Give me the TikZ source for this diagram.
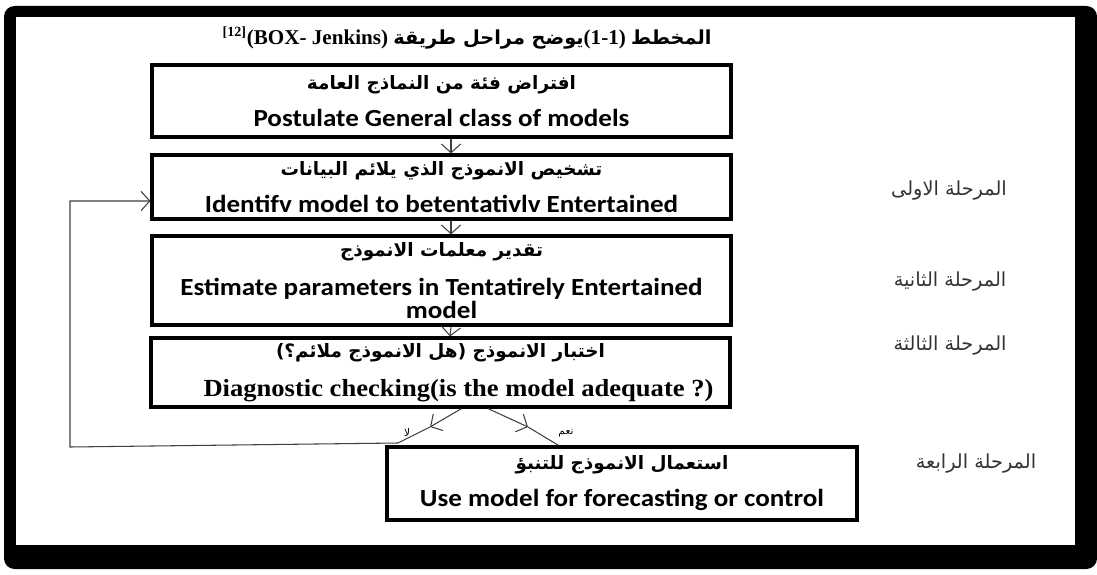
\documentclass[tikz,border=0pt]{standalone}
\usepackage{fontspec}
\setmainfont{Liberation Serif}
\newfontfamily\arabicfont[Script=Arabic]{DejaVu Sans}
\newfontfamily\boxfont[FakeStretch=1.1]{Carlito}
\newfontfamily\diagfont[FakeStretch=1.08]{Liberation Serif}
\TeXXeTstate=1
\usetikzlibrary{calc}
\usetikzlibrary{arrows.meta}
\newcommand{\artxt}[1]{{\arabicfont\bfseries\fontsize{10.5}{13}\selectfont\beginR #1\endR}}
\tikzstyle{stagebox}=[draw, line width=1.8pt, minimum width=11.58cm, inner sep=0pt,
                  align=center, font=\boxfont\bfseries\fontsize{14}{13}\selectfont]
\tikzstyle{flow}=[draw=black!75, line width=0.6pt, -{Straight Barb[length=5pt,width=11pt]}]
\tikzstyle{flowline}=[draw=black!75, line width=0.6pt]
\tikzstyle{phase}=[font=\arabicfont\fontsize{11}{13}\selectfont, text=black!80]

\begin{document}
\begin{tikzpicture}[x=0.02cm, y=-0.02cm]
      \useasboundingbox (0,0) rectangle (1097,574);
      % Frame round the figure
      \fill[black, rounded corners=6pt] (4,6) rectangle (1097,569);
      \fill[white] (16,17) rectangle (1075,545);
      %
      \node[font=\bfseries\fontsize{12}{14}\selectfont] (title) at (467,38)
        {\textsuperscript{[12]}(BOX- Jenkins) {\arabicfont\bfseries\fontsize{11}{14}\selectfont\beginR يوضح  مراحل طريقة\endR}(1-1) {\arabicfont\bfseries\fontsize{11}{14}\selectfont\beginR المخطط\endR}};
      %
      % Stages of the method
      \node[stagebox, minimum height=1.44cm] (p1) at (441.5,101)
        {\artxt{افتراض فئة من النماذج العامة}\\[8pt] Postulate General class of models};
      \node[stagebox, minimum height=1.28cm] (p2) at (441.5,187)
        {\artxt{تشخيص الانموذج الذي يلائم البيانات}\\[8pt] Identifv model to betentativlv Entertained};
      \node[stagebox, minimum height=1.78cm] (p3) at (441.5,280.5)
        {\artxt{تقدير معلمات الانموذج}\\[9pt] Estimate parameters in Tentatirely Entertained\\ model};
      \node[stagebox, minimum height=1.38cm, font=\diagfont\bfseries\fontsize{14}{15}\selectfont] (p4) at (440.5,372.5)
        {\artxt{اختبار الانموذج (هل الانموذج ملائم؟)}\\[7pt] \hspace*{0.72cm}Diagnostic checking(is the model adequate ?)};
      \node[stagebox, minimum height=1.46cm, minimum width=9.4cm] (p5) at (622,483.5)
        {\artxt{استعمال الانموذج للتنبؤ}\\[8pt] Use model for forecasting or control};
      %
      \foreach \source/\dest in {p1/p2, p2/p3, p3/p4}
        \draw[flow] ([xshift=0.19cm]\source.south) -- ([xshift=0.19cm]\dest.north);
      %
      % Branches after the check
      \coordinate (nomid) at (430,427);
      \coordinate (nojoin) at (398,443);
      \coordinate (loopcorner) at (70,447);
      \coordinate (yesmid) at (528,427);
      \draw[flow] ([xshift=0.42cm]p4.south) -- (nomid);
      \draw[flow] (nomid) -- (nojoin) -- (loopcorner) |- ([yshift=-0.28cm]p2.west);
      \draw[flow] ([xshift=0.95cm]p4.south) -- (yesmid);
      \draw[flowline] (yesmid) -- ($(p5.north west)!0.366!(p5.north east)$);
      \node[font=\arabicfont\fontsize{6}{7}\selectfont] (nolbl) at (407,433) {لا};
      \node[font=\arabicfont\fontsize{6}{7}\selectfont] (yeslbl) at (566,433) {\beginR نعم\endR};
      %
      % Phase labels on the right
      \foreach \place/\name/\txt in {{(949,191)/ph1/المرحلة الاولى}, {(950,282)/ph2/المرحلة الثانية},
                                     {(950,346)/ph3/المرحلة الثالثة}, {(976,464)/ph4/المرحلة الرابعة}}
        \node[phase] (\name) at \place {\beginR\txt\endR};
    \end{tikzpicture}
\end{document}
